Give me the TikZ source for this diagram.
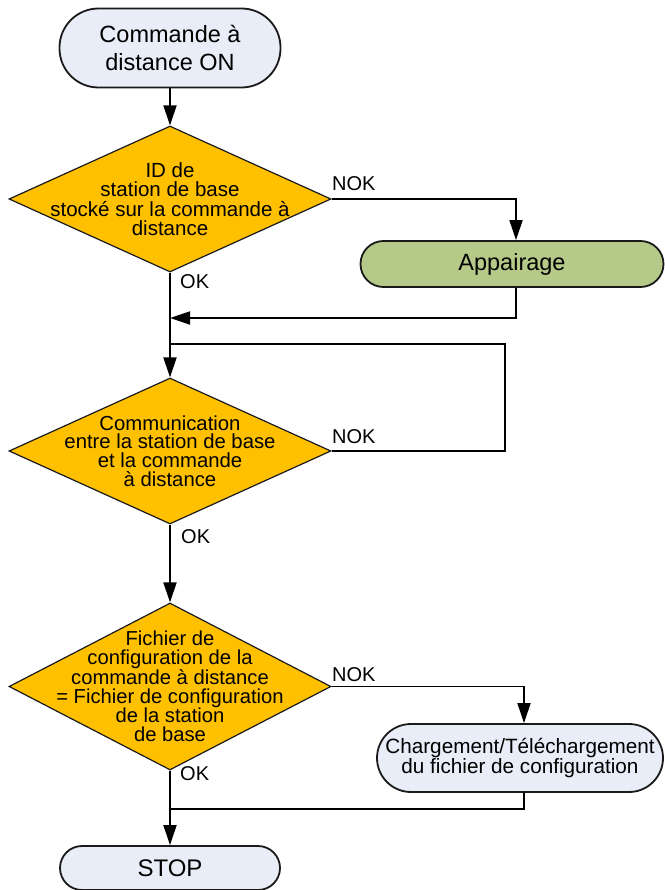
\documentclass[tikz,border=0pt]{standalone}
\usepackage{fontspec}
\setmainfont{Liberation Sans}
\usetikzlibrary{arrows.meta,positioning,shapes.geometric}
\definecolor{Frame}{HTML}{1A1A1A}
\definecolor{Mist}{HTML}{E8EDF7}
\definecolor{Gold}{HTML}{FFC000}
\definecolor{Olive}{HTML}{B5CA88}
\tikzset{
  arr/.style={-{Triangle[length=20pt,width=13pt]},line width=1.8pt,draw=black},
  lnk/.style={line width=1.8pt,draw=black},
  termbox/.style={draw=Frame,line width=1.8pt,fill=Mist,align=center,inner sep=0pt},
  decision/.style={diamond,draw=Frame,line width=1.2pt,fill=Gold,inner sep=0pt,
    minimum width=322pt,minimum height=146pt},
  dtext/.style={align=center,font=\fontsize{20.3}{18.6}\selectfont},
  tag/.style={anchor=south west,inner sep=0pt,font=\fontsize{20}{20}\selectfont}
}

\begin{document}
\begin{tikzpicture}[x=1pt,y=-1pt]
  \useasboundingbox (0,0) rectangle (664,890);
  \node[termbox,rounded corners=39pt,minimum width=221pt,minimum height=79pt,
    font=\fontsize{23.5}{28.5}\selectfont] (start) at (170,48) {Commande à\\distance ON};
  \node[decision,label={[dtext,font=\fontsize{20.5}{19.5}\selectfont]center:{ID de\\station de base\\stocké sur la commande à\\distance}}] (d1) at (170,199) {};
  \node[termbox,fill=Olive,rounded corners=23pt,minimum width=303pt,minimum height=46pt,
    font=\fontsize{23.5}{23.5}\selectfont] (app) at (512,264) {Appairage};
  \node[decision,label={[dtext]center:{Communication\\entre la station de base\\et la commande\\à distance}}] (d2) at (170,451) {};
  \node[decision,minimum height=167pt,label={[dtext,font=\fontsize{20.2}{19}\selectfont]center:{Fichier de\\configuration de la\\commande à distance\\= Fichier de configuration\\de la station\\de base}}] (d3) at (170,686.5) {};
  \node[termbox,rounded corners=34pt,minimum width=286pt,minimum height=68pt,
    font=\fontsize{20.7}{18.5}\selectfont] (chg) at (520,758) {Chargement/Téléchargement\\du fichier de configuration};
  \node[termbox,rounded corners=22pt,minimum width=220pt,minimum height=44pt,
    font=\fontsize{24}{24}\selectfont] (stop) at (170,868) {STOP};
  \coordinate (j1) at (170,318);
  \coordinate (j2) at (170,344);
  \coordinate (j3) at (170,809);
  % branches
  \draw[arr] (start) -- (d1);
  \draw[arr] (d1.east) -| ([xshift=4pt]app.north);
  \draw[arr] ([xshift=4pt]app.south) |- (j1);
  \draw[arr] (d1.south) -- (d2.north);
  \draw[lnk] (d2.east) -- ++(173,0) |- (j2);
  \draw[arr] (d2.south) -- (d3.north);
  \draw[arr] (d3.east) -| ([xshift=4pt]chg.north);
  \draw[lnk] ([xshift=4pt]chg.south) |- (j3);
  \draw[arr] (d3.south) -- (stop.north);
  % labels
  \node[tag] (nok1) at (332,191) {NOK};
  \node[tag] (ok1) at (180,289) {OK};
  \node[tag] (nok2) at (332,444) {NOK};
  \node[tag] (ok2) at (181,544) {OK};
  \node[tag] (nok3) at (332,682) {NOK};
  \node[tag] (ok3) at (180,781) {OK};
\end{tikzpicture}
\end{document}
